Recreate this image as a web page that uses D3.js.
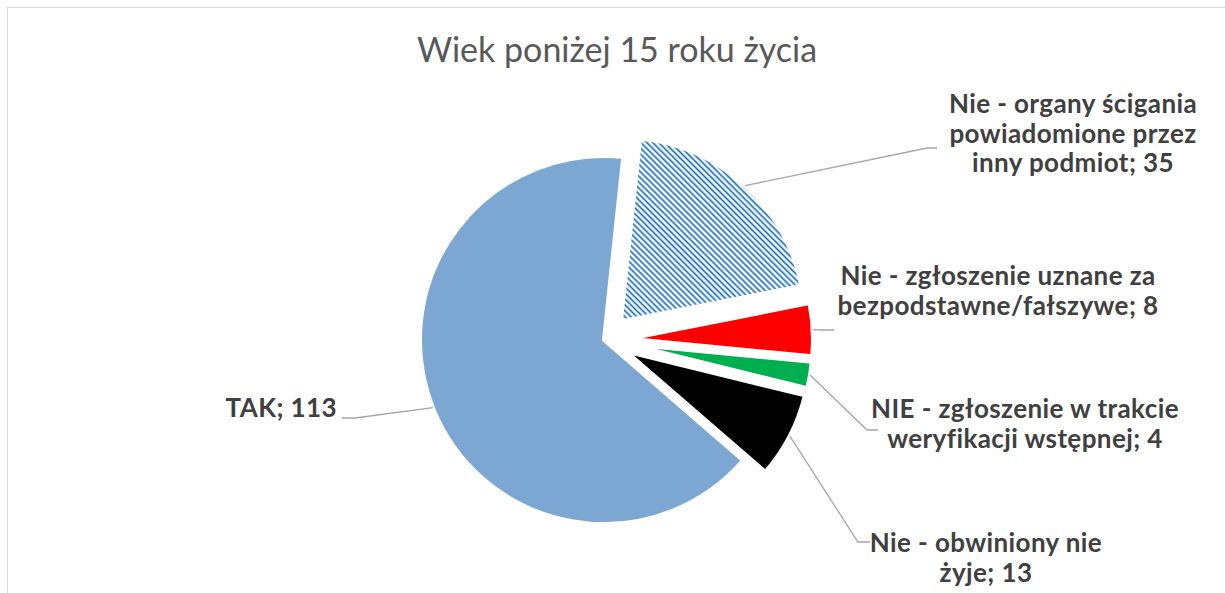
<!DOCTYPE html>
<html>
<head>
<meta charset="utf-8">
<script src="https://cdn.jsdelivr.net/npm/d3@7"></script>
<style>
  body { margin: 0; background: #fff; }
  svg { display: block; }
</style>
</head>
<body>
<svg id="chart" width="1225" height="593"></svg>
<script>
// data, in the order the slices run clockwise from the top
const categories = [
  "Nie - organy ścigania powiadomione przez inny podmiot",
  "Nie - zgłoszenie uznane za bezpodstawne/fałszywe",
  "NIE - zgłoszenie w trakcie weryfikacji wstępnej",
  "Nie - obwiniony nie żyje",
  "TAK"
];
const values = [35, 8, 4, 13, 113];
const labelLines = [
  ["Nie - organy ścigania", "powiadomione przez", "inny podmiot; 35"],
  ["Nie - zgłoszenie uznane za", "bezpodstawne/fałszywe; 8"],
  ["NIE - zgłoszenie w trakcie", "weryfikacji wstępnej; 4"],
  ["Nie - obwiniony nie", "żyje; 13"],
  ["TAK; 113"]
];
const title = "Wiek poniżej 15 roku życia";

// styles
const fills = ["url(#hatch)", "#ff0000", "#00b050", "#000000", "#7ba7d2"];
const exploded = [true, true, true, true, false];

// label placement (Excel data labels were dragged by hand)
const labelLayout = [
  {x: 1073, y: 113, anchor: "middle", elbow: [927, 148], end: [937, 148]},
  {x: 998, y: 285, anchor: "middle", elbow: [822, 330], end: [834, 330]},
  {x: 1025, y: 418, anchor: "middle", elbow: [867, 430], end: [878, 430]},
  {x: 986, y: 552, anchor: "middle", elbow: [858, 542], end: [870, 542]},
  {x: 337, y: 417, anchor: "end", elbow: [355, 418], end: [342, 418]}
];

let width = 1225, height = 593;
let cx = 604, cy = 340, radius = 184, explode = 25;
let startDeg = 6;

let svg = d3.select("#chart");

// chart area border
svg.append("rect")
  .attr("x", 7.5).attr("y", 7.5)
  .attr("width", width + 20).attr("height", height + 20)
  .attr("fill", "none")
  .attr("stroke", "#d9d9d9")
  .attr("stroke-width", 1);

let defs = svg.append("defs");
let pat = defs.append("pattern")
  .attr("id", "hatch")
  .attr("patternUnits", "userSpaceOnUse")
  .attr("width", 4.2).attr("height", 4.2)
  .attr("patternTransform", "rotate(-45)");
pat.append("rect").attr("width", 4.2).attr("height", 4.2).attr("fill", "#fff");
pat.append("line")
  .attr("x1", 2.1).attr("y1", 0).attr("x2", 2.1).attr("y2", 4.2)
  .attr("stroke", "#1a6fc2").attr("stroke-width", 1.7);

svg.append("text")
  .attr("x", 617).attr("y", 62)
  .attr("text-anchor", "middle")
  .attr("font-family", "Lato, 'Open Sans', sans-serif")
  .attr("font-size", 34)
  .attr("fill", "#595959")
  .text(title);

let pie = d3.pie()
  .sort(null)
  .value(d => d)
  .startAngle(startDeg * Math.PI / 180)
  .endAngle((startDeg + 360) * Math.PI / 180);

let arc = d3.arc().innerRadius(0).outerRadius(radius);

let arcs = pie(values);

let offsetOf = function (d, i, r) {
  let mid = (d.startAngle + d.endAngle) / 2;
  return [Math.sin(mid) * r, -Math.cos(mid) * r];
};

let g = svg.append("g").attr("transform", "translate(" + cx + "," + cy + ")");

g.selectAll(".slice")
  .data(arcs)
  .enter().append("path")
  .attr("class", "slice")
  .attr("transform", function (d, i) {
    let o = offsetOf(d, i, exploded[i] ? explode : 0);
    return "translate(" + o[0] + "," + o[1] + ")";
  })
  .attr("d", arc)
  .attr("fill", (d, i) => fills[i])
  .attr("stroke", "#fff")
  .attr("stroke-width", 4);

// leader lines
svg.selectAll(".leader")
  .data(arcs)
  .enter().append("polyline")
  .attr("class", "leader")
  .attr("points", function (d, i) {
    let o = offsetOf(d, i, (exploded[i] ? explode : 0) + radius);
    let L = labelLayout[i];
    return [[cx + o[0], cy + o[1]], L.elbow, L.end].map(p => p.join(",")).join(" ");
  })
  .attr("fill", "none")
  .attr("stroke", "#a6a6a6")
  .attr("stroke-width", 1.3);

// data labels
let labels = svg.selectAll(".label")
  .data(arcs)
  .enter().append("text")
  .attr("class", "label")
  .attr("text-anchor", (d, i) => labelLayout[i].anchor)
  .attr("font-family", "Lato, 'Open Sans', sans-serif")
  .attr("font-weight", "bold")
  .attr("font-size", 26)
  .attr("letter-spacing", 0.4)
  .attr("fill", "#404040");

labels.each(function (d, i) {
  let L = labelLayout[i];
  d3.select(this).selectAll("tspan")
    .data(labelLines[i])
    .enter().append("tspan")
    .attr("x", L.x)
    .attr("y", (t, j) => L.y + j * 29.5)
    .text(t => t);
});
</script>
</body>
</html>
